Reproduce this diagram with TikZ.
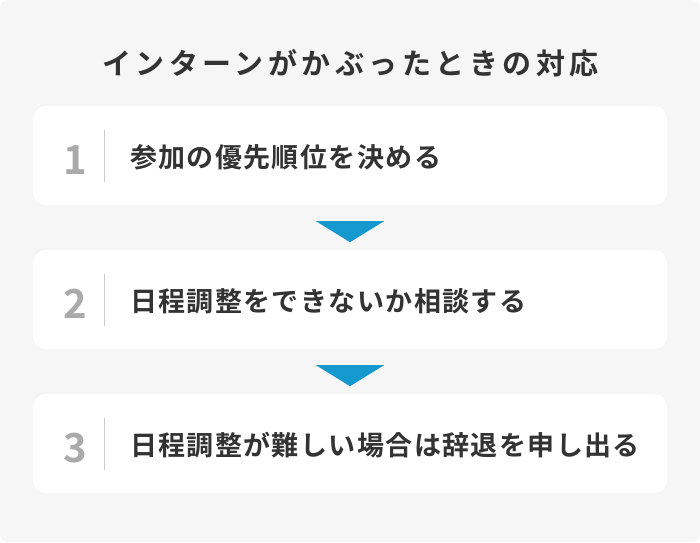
\documentclass[tikz,border=0pt]{standalone}
\usepackage{fontspec}
\usetikzlibrary{calc}
\setmainfont{Noto Sans CJK JP}
\newfontfamily\titlefont[LetterSpace=15.5]{Noto Sans CJK JP Bold}
\newfontfamily\itemfont[LetterSpace=5.2]{Noto Sans CJK JP Bold}
\newfontfamily\numfont{Noto Sans CJK JP Bold}
\definecolor{bgc}{HTML}{F6F6F6}
\definecolor{txt}{HTML}{333333}
\definecolor{numc}{HTML}{AAAAAA}
\definecolor{divc}{HTML}{CCCCCC}
\definecolor{arrc}{HTML}{1699CF}
\tikzset{
  stepbox/.style={fill=white, draw=none, rounded corners=13pt, minimum width=634pt, minimum height=99pt, inner sep=0pt},
  numlabel/.style={font=\numfont\fontsize{40}{44}\selectfont, text=numc, anchor=base, inner sep=0pt},
  itemlabel/.style={font=\itemfont\fontsize{27}{30}\selectfont, text=txt, anchor=base west, inner sep=0pt},
  titlelabel/.style={font=\titlefont\fontsize{29}{32}\selectfont, text=txt, anchor=base west, inner sep=0pt},
  divline/.style={draw=divc, line width=1.5pt},
  tri/.style={fill=arrc, draw=none}
}
\begin{document}
\begin{tikzpicture}[x=1pt,y=-1pt]
\useasboundingbox (0,0) rectangle (700,542);
\fill[white] (0,0) rectangle (700,542);
\fill[bgc, rounded corners=8pt] (0,0) rectangle (700,542);
\node[titlelabel] (title) at (102,74) {インターンがかぶったときの対応};
\foreach \i/\y/\t in {1/155.5/参加の優先順位を決める, 2/299.5/日程調整をできないか相談する, 3/443.5/日程調整が難しい場合は辞退を申し出る}{
  \node[stepbox] (b\i) at (350,\y) {};
  \node[numlabel] (n\i) at ($(b\i.west)+(42,18.5)$) {\i};
  \draw[divline] ($(b\i.west)+(71.5,-26)$) coordinate (d\i a) -- ($(b\i.west)+(71.5,26)$) coordinate (d\i b);
  \node[itemlabel] (t\i) at ($(b\i.west)+(97,11.5)$) {\t};
}
\foreach \i in {1,2}{
  \fill[tri] ($(b\i.south)+(-34,16)$) coordinate (ta\i) -- ($(b\i.south)+(34,16)$) coordinate (tb\i) -- ($(b\i.south)+(0,37)$) coordinate (tc\i) -- cycle;
}
\end{tikzpicture}
\end{document}
